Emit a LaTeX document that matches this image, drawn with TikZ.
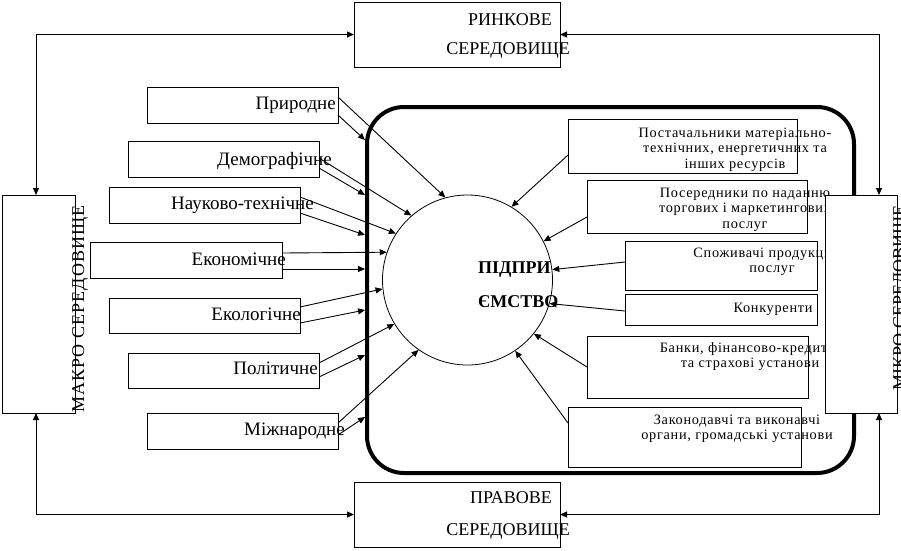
\documentclass[tikz,border=0pt]{standalone}
\usepackage{fontspec}
\setmainfont{Liberation Serif}
\newfontfamily\smallfont[LetterSpace=5]{Liberation Serif}
\newfontfamily\vfont[LetterSpace=6]{Liberation Serif}
\usetikzlibrary{arrows.meta,calc}
\newcommand\rtext[1]{\begin{tabular}[t]{@{}c@{}}#1\end{tabular}}
\tikzset{
  box/.style={draw, line width=1pt, inner sep=0pt, outer sep=0pt, anchor=north west},
  arr/.style={line width=0.9pt, -{Triangle[length=7pt,width=6pt]}},
  darr/.style={line width=1pt, {Triangle[length=7pt,width=6pt]}-{Triangle[length=7pt,width=6pt]}},
  lbl/.style={inner sep=0pt, font=\fontsize{18}{20}\selectfont},
  llbl/.style={inner sep=0pt, anchor=base east, font=\fontsize{19}{21}\selectfont},
  rt/.style={inner sep=0pt, anchor=base, font=\smallfont\fontsize{14.3}{15.5}\selectfont},
  lw/.style={minimum width=191pt, minimum height=36pt}
}
\begin{document}
\begin{tikzpicture}[x=1pt,y=-1pt]
\useasboundingbox (0,0) rectangle (901,550);
% enterprise frame and circle
\node[draw, line width=4pt, rounded corners=37pt, minimum width=487pt, minimum height=366pt,
      inner sep=0pt, outer sep=0pt, anchor=north west] (firm) at (367,107) {};
\node[draw, circle, minimum size=170pt, inner sep=0pt, line width=0.8pt] (circ) at (467.5,280) {};
\node[lbl, anchor=base west, font=\bfseries\fontsize{18}{20}\selectfont] (c1) at (478,273) {ПІДПРИ};
\node[lbl, anchor=base west, font=\bfseries\fontsize{18}{20}\selectfont] (c2) at (478,307) {ЄМСТВО};

% left factor boxes
\node[box, lw] (prir) at (147,87) {};
\node[box, lw] (demo) at (128,141) {};
\node[box, lw] (nauk) at (109,187) {};
\node[box, lw, minimum width=192pt] (ekon) at (90,242) {};
\node[box, lw, minimum height=35pt] (ekol) at (109,298) {};
\node[box, lw, minimum height=35pt] (pol) at (128,353) {};
\node[box, lw] (mizh) at (147,413) {};
\node[llbl] (prirt) at (336,109) {Природне};
\node[llbl] (demot) at (332,165) {Демографічне};
\node[llbl] (naukt) at (314,209) {Науково-технічне};
\node[llbl] (ekont) at (286,265) {Економічне};
\node[llbl] (ekolt) at (301,320) {Екологічне};
\node[llbl] (polt) at (318,374) {Політичне};
\node[llbl] (mizht) at (345,435) {Міжнародне};

% left arrows
\draw[arr] ([yshift=8pt]prir.east) -- (circ.105.7);
\draw[arr] ([yshift=-10pt]prir.east) -- ($(firm.north west)+(-2,33)$);
\draw[arr] ([yshift=1pt]demo.east) -- (circ.131.2);
\draw[arr] ([yshift=-9pt]demo.east) -- ($(firm.north west)+(-2,88)$);
\draw[arr] ([yshift=8pt]nauk.east) -- (circ.147.6);
\draw[arr] ([yshift=-8pt]nauk.east) -- ($(firm.north west)+(-2,128)$);
\draw[arr] ([yshift=7pt]ekon.east) -- (circ.161.5);
\draw[arr] ([yshift=-9pt]ekon.east) -- ($(firm.north west)+(-2,162)$);
\draw[arr] ([yshift=8.5pt]ekol.east) -- (circ.186.7);
\draw[arr] ([yshift=-7.5pt]ekol.east) -- ($(firm.north west)+(-2,203)$);
\draw[arr] ([yshift=7.5pt]pol.east) -- (circ.211.9);
\draw[arr] ([yshift=-6.5pt]pol.east) -- ($(firm.north west)+(-2,248)$);
\draw[arr] ([yshift=8pt]mizh.east) -- (circ.235);
\draw[arr] ([yshift=-4pt]mizh.east) -- ($(firm.north west)+(-2,310)$);

% right factor boxes
\node[box, minimum width=229pt, minimum height=54pt] (r1) at (568,119) {};
\node[box, minimum width=220pt, minimum height=53pt] (r2) at (587,180) {};
\node[box, minimum width=192pt, minimum height=49pt] (r3) at (625,241) {};
\node[box, minimum width=192pt, minimum height=31pt] (r4) at (625,294) {};
\node[box, minimum width=221pt, minimum height=62pt] (r5) at (587,336) {};
\node[box, minimum width=233pt, minimum height=60pt] (r6) at (568,407) {};
\node[rt] (r1t) at (735,137) {\rtext{Постачальники матеріально-\\технічних, енергетичних та\\інших ресурсів}};
\node[rt] (r2t) at (745,197) {\rtext{Посередники по наданню\\торгових і маркетингових\\послуг}};
\node[rt] (r3t) at (772,257) {\rtext{Споживачі продукції та\\послуг}};
\node[rt] (r4t) at (773,312) {Конкуренти};
\node[rt] (r5t) at (750,352) {\rtext{Банки, фінансово-кредитні\\та страхові установи}};
\node[rt] (r6t) at (737,424) {\rtext{Законодавчі та виконавчі\\органи, громадські установи}};

% right arrows
\draw[arr] ([yshift=-9pt]r1.west) -- (circ.59.4);
\draw[arr] ([yshift=-10.5pt]r2.west) -- (circ.27.8);
\draw[arr] ([yshift=3.5pt]r3.west) -- (circ.7.6);
\draw[arr] ([yshift=-1.5pt]r4.west) -- (circ.-16.5);
\draw[arr] (r5.west) -- (circ.-39);
\draw[arr] ([yshift=14pt]r6.west) -- (circ.-56.6);

% macro / micro environment
\node[box, fill=white, minimum width=73pt, minimum height=218pt] (macro) at (2,195) {};
\node[lbl, rotate=90, anchor=base, font=\vfont\fontsize{18}{20}\selectfont] (macrot) at (84,309) {МАКРО СЕРЕДОВИЩЕ};
\node[box, fill=white, minimum width=72pt, minimum height=218pt] (micro) at (825,195) {};
\node[lbl, rotate=90, anchor=base] (microt) at (905,298) {МІКРО СЕРЕДОВИЩЕ};

% market and legal environment
\node[box, minimum width=206pt, minimum height=65pt] (market) at (354,2) {};
\node[lbl, anchor=base east] (market1) at (552,25) {РИНКОВЕ};
\node[lbl, anchor=base east] (market2) at (570,54) {СЕРЕДОВИЩЕ};
\node[box, minimum width=206pt, minimum height=65pt] (legal) at (354,482) {};
\node[lbl, anchor=base east] (legal1) at (552,503) {ПРАВОВЕ};
\node[lbl, anchor=base east] (legal2) at (570,535) {СЕРЕДОВИЩЕ};

\draw[darr] ([xshift=-2.5pt]macro.north) |- (market.west);
\draw[darr] (market.east) -| ([xshift=18pt]micro.north);
\draw[darr] ([xshift=-2.5pt]macro.south) |- (legal.west);
\draw[darr] (legal.east) -| ([xshift=18pt]micro.south);
\end{tikzpicture}
\end{document}
